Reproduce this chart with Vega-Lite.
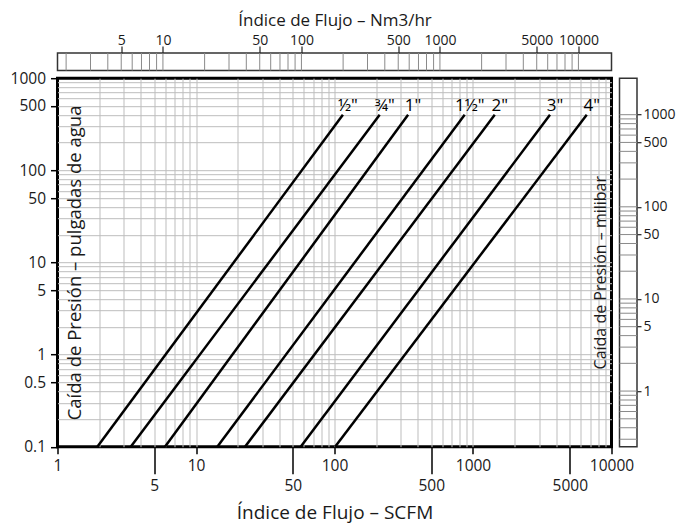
{
  "$schema": "https://vega.github.io/schema/vega-lite/v6.json",
  "padding": {"left": 8.5, "top": 10, "right": 5, "bottom": 5},
  "config": {
    "font": "Open Sans",
    "view": {"stroke": null},
    "axis": {"labelFont": "Open Sans", "titleFont": "Open Sans", "titleFontWeight": "normal", "labelColor": "#1a1a1a", "titleColor": "#1a1a1a", "labelFlush": false, "labelOverlap": false},
    "text": {"font": "Open Sans"}
  },
  "datasets": {
    "curves": [
      {"size": "½\"", "flow": 1.94, "dp": 0.1}, {"size": "½\"", "flow": 115, "dp": 400},
      {"size": "¾\"", "flow": 3.38, "dp": 0.1}, {"size": "¾\"", "flow": 212, "dp": 400},
      {"size": "1\"", "flow": 5.97, "dp": 0.1}, {"size": "1\"", "flow": 340, "dp": 400},
      {"size": "1½\"", "flow": 14.25, "dp": 0.1}, {"size": "1½\"", "flow": 871, "dp": 400},
      {"size": "2\"", "flow": 22.6, "dp": 0.1}, {"size": "2\"", "flow": 1436, "dp": 400},
      {"size": "3\"", "flow": 57.0, "dp": 0.1}, {"size": "3\"", "flow": 3597, "dp": 400},
      {"size": "4\"", "flow": 101, "dp": 0.1}, {"size": "4\"", "flow": 6626, "dp": 400}
    ],
    "nm3": [
      {"v": 2}, {"v": 3}, {"v": 4}, {"v": 5}, {"v": 6}, {"v": 7}, {"v": 8}, {"v": 9},
      {"v": 10}, {"v": 20}, {"v": 30}, {"v": 40}, {"v": 50}, {"v": 60}, {"v": 70}, {"v": 80}, {"v": 90},
      {"v": 100}, {"v": 200}, {"v": 300}, {"v": 400}, {"v": 500}, {"v": 600}, {"v": 700}, {"v": 800}, {"v": 900},
      {"v": 1000}, {"v": 2000}, {"v": 3000}, {"v": 4000}, {"v": 5000}, {"v": 6000}, {"v": 7000}, {"v": 8000}, {"v": 9000},
      {"v": 10000}
    ],
    "mbar": [
      {"v": 0.3}, {"v": 0.4}, {"v": 0.5}, {"v": 0.6}, {"v": 0.7}, {"v": 0.8}, {"v": 0.9},
      {"v": 1}, {"v": 2}, {"v": 3}, {"v": 4}, {"v": 5}, {"v": 6}, {"v": 7}, {"v": 8}, {"v": 9},
      {"v": 10}, {"v": 20}, {"v": 30}, {"v": 40}, {"v": 50}, {"v": 60}, {"v": 70}, {"v": 80}, {"v": 90},
      {"v": 100}, {"v": 200}, {"v": 300}, {"v": 400}, {"v": 500}, {"v": 600}, {"v": 700}, {"v": 800}, {"v": 900},
      {"v": 1000}
    ]
  },
  "bounds": "flush",
  "spacing": 7.2,
  "vconcat": [
    {
      "width": 554,
      "height": 17.5,
      "view": {"stroke": "#333333", "strokeWidth": 1.5},
      "data": {"name": "nm3"},
      "mark": {"type": "rule", "color": "#8a8a8a", "strokeWidth": 1},
      "encoding": {
        "x": {
          "field": "v", "type": "quantitative",
          "scale": {"type": "log", "domain": [1.733, 17330], "nice": false},
          "axis": {
            "orient": "top",
            "values": [5, 10, 50, 100, 500, 1000, 5000, 10000],
            "labelExpr": "datum.value + ''",
            "tickSize": 7, "tickColor": "#222222", "tickWidth": 1.2,
            "labelPadding": -1, "labelFontSize": 14,
            "domain": false, "grid": false,
            "title": "Índice de Flujo – Nm3/hr", "titleFontSize": 17, "titlePadding": 4
          }
        }
      }
    },
    {
      "bounds": "flush",
      "spacing": 8,
      "hconcat": [
        {
          "width": 554,
          "height": 368.5,
          "view": {"stroke": "black", "strokeWidth": 3},
          "resolve": {"axis": {"x": "independent", "y": "independent"}},
          "layer": [
            {
              "data": {"name": "curves"},
              "mark": {"type": "line", "color": "black", "strokeWidth": 2.5},
              "encoding": {
                "x": {
                  "field": "flow", "type": "quantitative",
                  "scale": {"type": "log", "domain": [1, 10000], "nice": false},
                  "axis": {
                    "orient": "bottom",
                    "values": [1, 5, 10, 50, 100, 500, 1000, 5000, 10000],
                    "labelExpr": "datum.value + ''",
                    "tickSize": {"condition": {"test": "indexof([5, 50, 500, 5000], datum.value) >= 0", "value": 27}, "value": 7},
                    "tickColor": "black", "tickWidth": 1.5,
                    "labelPadding": 4.5, "labelFontSize": 15.5,
                    "domain": false, "grid": false,
                    "title": "Índice de Flujo – SCFM", "titleFontSize": 19, "titlePadding": 10
                  }
                },
                "y": {
                  "field": "dp", "type": "quantitative",
                  "scale": {"type": "log", "domain": [0.1, 1000], "nice": false},
                  "axis": {
                    "orient": "left",
                    "values": [0.1, 0.5, 1, 5, 10, 50, 100, 500, 1000],
                    "labelExpr": "datum.value + ''",
                    "tickSize": 7, "tickColor": "black", "tickWidth": 1.5,
                    "labelPadding": 5, "labelFontSize": 15.5,
                    "domain": false, "grid": false,
                    "title": "Caída de Presión – pulgadas de agua", "titleFontSize": 18.5,
                    "titleAngle": 270, "titleX": 17, "titleBaseline": "middle", "titleAlign": "center"
                  }
                },
                "detail": {"field": "size", "type": "nominal"}
              }
            },
            {
              "data": {"name": "curves"},
              "transform": [{"filter": "datum.dp > 1"}],
              "mark": {"type": "text", "fontSize": 17, "dx": 5, "dy": -3.5, "baseline": "alphabetic", "align": "center", "color": "black"},
              "encoding": {
                "x": {
                  "field": "flow", "type": "quantitative",
                  "scale": {"type": "log", "domain": [1, 10000], "nice": false},
                  "axis": {
                    "orient": "top",
                    "values": [2,3,4,5,6,7,8,9,10,20,30,40,50,60,70,80,90,100,200,300,400,500,600,700,800,900,1000,2000,3000,4000,5000,6000,7000,8000,9000],
                    "grid": true, "gridColor": "#bdbdbd", "gridWidth": 1,
                    "labels": false, "ticks": false, "domain": false, "title": null
                  }
                },
                "y": {
                  "field": "dp", "type": "quantitative",
                  "scale": {"type": "log", "domain": [0.1, 1000], "nice": false},
                  "axis": {
                    "orient": "right",
                    "values": [0.2,0.3,0.4,0.5,0.6,0.7,0.8,0.9,1,2,3,4,5,6,7,8,9,10,20,30,40,50,60,70,80,90,100,200,300,400,500,600,700,800,900],
                    "grid": true, "gridColor": "#bdbdbd", "gridWidth": 1,
                    "labels": false, "ticks": false, "domain": false,
                    "title": "Caída de Presión – milibar", "titleFontSize": 16,
                    "titleAngle": 270, "titleX": -11, "titleY": 194, "titleBaseline": "middle", "titleAlign": "center"
                  }
                },
                "text": {"field": "size", "type": "nominal"}
              }
            }
          ]
        },
        {
          "width": 17.5,
          "height": 368.5,
          "view": {"stroke": "#333333", "strokeWidth": 1.5},
          "data": {"name": "mbar"},
          "mark": {"type": "rule", "color": "#8a8a8a", "strokeWidth": 1},
          "encoding": {
            "y": {
              "field": "v", "type": "quantitative",
              "scale": {"type": "log", "domain": [0.249, 2490], "nice": false},
              "axis": {
                "orient": "right",
                "values": [1, 5, 10, 50, 100, 500, 1000],
                "labelExpr": "datum.value + ''",
                "tickSize": 4, "tickColor": "#222222", "tickWidth": 1.2,
                "labelPadding": 2, "labelFontSize": 14,
                "domain": false, "grid": false, "title": null
              }
            }
          }
        }
      ]
    }
  ]
}
